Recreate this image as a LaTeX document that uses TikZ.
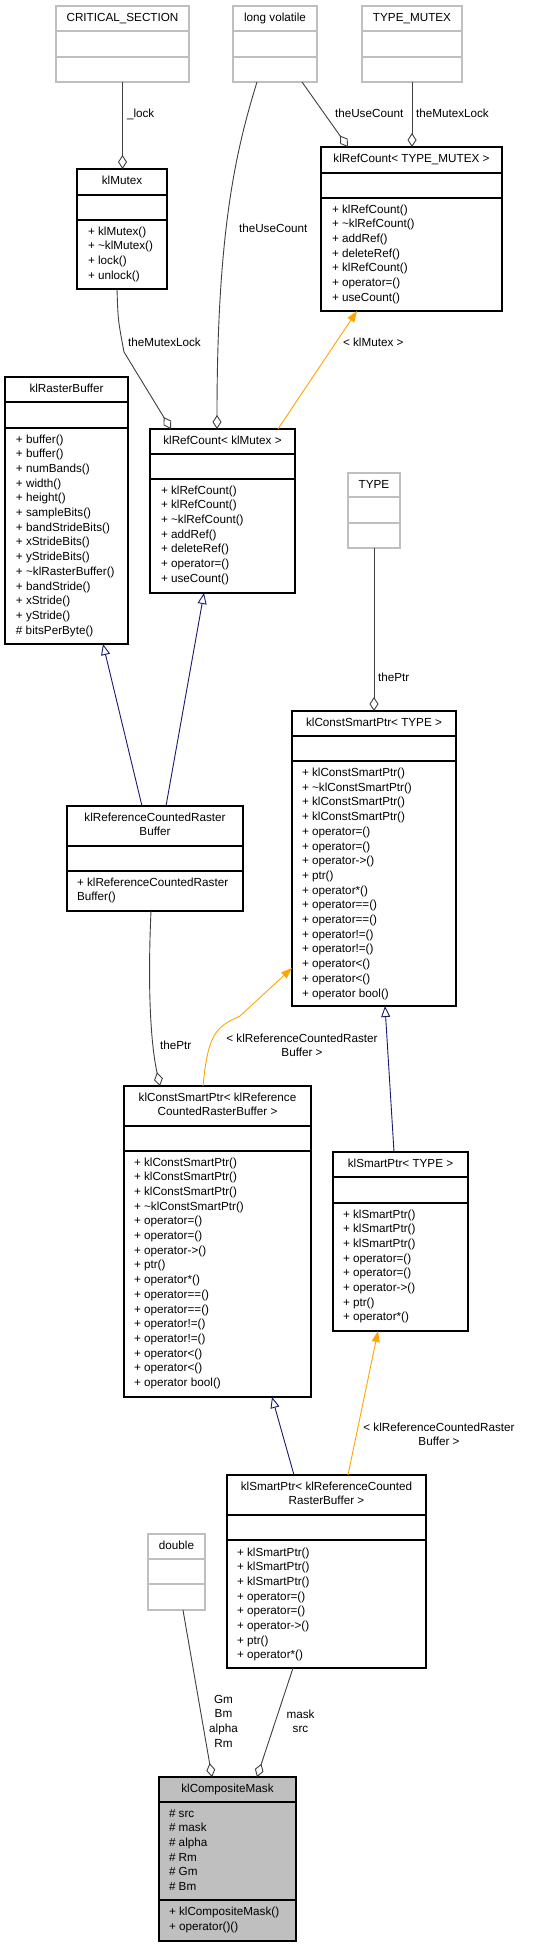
\documentclass[tikz,border=0pt]{standalone}
\usepackage{fontspec}
\setmainfont{Liberation Sans}
\usetikzlibrary{arrows.meta}
\definecolor{gborder}{HTML}{BFBFBF}
\definecolor{edgegray}{HTML}{404040}
\definecolor{inhblue}{HTML}{191970}
\definecolor{tmplorange}{HTML}{FFA500}
\definecolor{cmfill}{HTML}{BFBFBF}
\tikzset{
  txt/.style={inner sep=0pt, outer sep=0pt, text=black, font=\fontsize{11.7}{14}\selectfont},
  clsbox/.style={draw=black, line width=1.1pt, inner sep=0pt, outer sep=0pt, fill=white},
  graybox/.style={draw=gborder, line width=1.1pt, inner sep=0pt, outer sep=0pt, fill=white},
  mainbox/.style={draw=black, line width=1.1pt, inner sep=0pt, outer sep=0pt, fill=cmfill},
  agg/.style={draw=edgegray, line width=0.9pt, -{Diamond[open, length=14pt, width=9pt]}},
  inh/.style={draw=inhblue, line width=0.9pt, -{Triangle[open, length=11pt, width=9pt]}},
  tmpl/.style={draw=tmplorange, line width=0.9pt, -{Triangle[length=11pt, width=8pt]}},
}
% box: style, name, x1, y1, x2, y2, divider1, divider2
\newcommand\umlbox[8]{%
  \node[#1, anchor=north west, minimum width={#5-#3}, minimum height={#6-#4}] (#2) at (#3,#4) {};
  \draw[#1, fill=none] (#2.west |- 0,#7) -- (#2.east |- 0,#7) (#2.west |- 0,#8) -- (#2.east |- 0,#8);
}
% left-aligned lines: prefix, left x, first centre y, list
\newcommand\mlines[4]{%
  \foreach \mytext [count=\k from 0] in {#4}{
    \node[txt, anchor=base west] (#1\k) at (#2, {#3+4+14.7*\k}) {\mytext};
  }}
% centred lines: prefix, centre x, first centre y, list
\newcommand\clines[4]{%
  \foreach \mytext [count=\k from 0] in {#4}{
    \node[txt, anchor=base] (#1\k) at (#2, {#3+4+14.7*\k}) {\mytext};
  }}
\begin{document}
\begin{tikzpicture}[x=1pt, y=-1pt]
\useasboundingbox (0,0) rectangle (557,1947);
\fill[white] (0,0) rectangle (557,1947);

% ---------------- classes ----------------
\umlbox{graybox}{cs}{56}{6}{189}{82}{31}{57}
\clines{cs-t}{122.5}{17}{CRITICAL\_SECTION}

\umlbox{graybox}{lv}{233}{6}{317}{82}{31}{57}
\clines{lv-t}{275}{17}{long volatile}

\umlbox{graybox}{tm}{362}{6}{462}{82}{31}{57}
\clines{tm-t}{412}{17}{TYPE\_MUTEX}

\umlbox{clsbox}{kmx}{77}{169}{167}{289}{195}{220}
\clines{kmx-t}{122}{180}{klMutex}
\mlines{kmx-m}{88}{231}{+ klMutex(), + \textasciitilde klMutex(), + lock(), + unlock()}

\umlbox{clsbox}{rct}{321}{147}{502}{311}{173}{198}
\clines{rct-t}{411.5}{158}{klRefCount< TYPE\_MUTEX >}
\mlines{rct-m}{332}{209}{+ klRefCount(), + \textasciitilde klRefCount(), + addRef(), + deleteRef(), + klRefCount(), + operator=(), + useCount()}

\umlbox{clsbox}{rb}{5}{377}{128}{644}{402}{428}
\clines{rb-t}{66.5}{388}{klRasterBuffer}
\mlines{rb-m}{16}{439}{+ buffer(), + buffer(), + numBands(), + width(), + height(), + sampleBits(), + bandStrideBits(), + xStrideBits(), + yStrideBits(), + \textasciitilde klRasterBuffer(), + bandStride(), + xStride(), + yStride(), \# bitsPerByte()}

\umlbox{clsbox}{rcm}{150}{429}{295}{593}{454}{479}
\clines{rcm-t}{222.5}{440}{klRefCount< klMutex >}
\mlines{rcm-m}{161}{490}{+ klRefCount(), + klRefCount(), + \textasciitilde klRefCount(), + addRef(), + deleteRef(), + operator=(), + useCount()}

\umlbox{graybox}{ty}{348}{473}{400}{548}{497}{523}
\clines{ty-t}{374}{484}{TYPE}

\umlbox{clsbox}{cst}{292}{711}{456}{1006}{736}{761}
\clines{cst-t}{374}{722}{klConstSmartPtr< TYPE >}
\mlines{cst-m}{302}{772.5}{+ klConstSmartPtr(), + \textasciitilde klConstSmartPtr(), + klConstSmartPtr(), + klConstSmartPtr(), + operator=(), + operator=(), + operator->(), + ptr(), + operator*(), + operator==(), + operator==(), + operator!=(), + operator!=(), + operator<(), + operator<(), + operator bool()}

\umlbox{clsbox}{rcrb}{67}{806}{243}{911}{846}{871}
\clines{rcrb-t}{155}{817}{klReferenceCountedRaster, Buffer}
\mlines{rcrb-m}{77}{882}{+ klReferenceCountedRaster, Buffer()}

\umlbox{clsbox}{csr}{124}{1086}{311}{1397}{1126}{1151}
\clines{csr-t}{217.5}{1097}{klConstSmartPtr< klReference, CountedRasterBuffer >}
\mlines{csr-m}{134}{1162}{+ klConstSmartPtr(), + klConstSmartPtr(), + klConstSmartPtr(), + \textasciitilde klConstSmartPtr(), + operator=(), + operator=(), + operator->(), + ptr(), + operator*(), + operator==(), + operator==(), + operator!=(), + operator!=(), + operator<(), + operator<(), + operator bool()}

\umlbox{clsbox}{spt}{333}{1152}{468}{1331}{1177}{1203}
\clines{spt-t}{400.5}{1163}{klSmartPtr< TYPE >}
\mlines{spt-m}{343}{1214}{+ klSmartPtr(), + klSmartPtr(), + klSmartPtr(), + operator=(), + operator=(), + operator->(), + ptr(), + operator*()}

\umlbox{clsbox}{spr}{227}{1475}{426}{1668}{1515}{1540}
\clines{spr-t}{326.5}{1486}{klSmartPtr< klReferenceCounted, RasterBuffer >}
\mlines{spr-m}{237}{1552}{+ klSmartPtr(), + klSmartPtr(), + klSmartPtr(), + operator=(), + operator=(), + operator->(), + ptr(), + operator*()}

\umlbox{graybox}{db}{148}{1534}{205}{1610}{1559}{1584}
\clines{db-t}{176.5}{1545}{double}

\umlbox{mainbox}{cm}{159}{1777}{296}{1941}{1802}{1900}
\clines{cm-t}{227.5}{1788}{klCompositeMask}
\mlines{cm-a}{169}{1813}{\# src, \# mask, \# alpha, \# Rm, \# Gm, \# Bm}
\mlines{cm-m}{169}{1911.5}{+ klCompositeMask(), + operator()()}

% ---------------- connectors ----------------
\draw[agg] (cs.south) -- (cs.south |- kmx.north);
\draw[agg] (302,0 |- lv.south) -- (348,0 |- rct.north);
\draw[agg] (tm.south) -- (tm.south |- rct.north);
\draw[agg] (257,0 |- lv.south) .. controls (236,150) and (217,230) .. (217,0 |- rcm.north);
\draw[agg] (117,0 |- kmx.south) .. controls (118,320) .. (124,352) -- (171,0 |- rcm.north);
\draw[tmpl] (278,0 |- rcm.north) -- (357,0 |- rct.south);

\draw[inh] (142,0 |- rcrb.north) -- (103,0 |- rb.south);
\draw[inh] (166,0 |- rcrb.north) -- (204,0 |- rcm.south);

\draw[agg] (ty.south) -- (ty.south |- cst.north);
\draw[agg] (151,0 |- rcrb.south) .. controls (147,1000) and (152,1050) .. (160,0 |- csr.north);
\draw[tmpl] (203,0 |- csr.north) .. controls (208,1035) and (215,1027) .. (240,1016) -- (cst.west |- 0,968);

\draw[inh] (394,0 |- spt.north) -- (385,0 |- cst.south);
\draw[inh] (294,0 |- spr.north) -- (272,0 |- csr.south);
\draw[tmpl] (348,0 |- spr.north) -- (378,0 |- spt.south);

\draw[agg] (183,0 |- db.south) -- (212,0 |- cm.north);
\draw[agg] (293,0 |- spr.south) -- (257,0 |- cm.north);

% ---------------- connector labels ----------------
\node[txt, anchor=base west] (l-lock) at (127,117) {\_lock};
\node[txt, anchor=base west] (l-uc1) at (335,117) {theUseCount};
\node[txt, anchor=base west] (l-ml1) at (416,117) {theMutexLock};
\node[txt, anchor=base west] (l-uc2) at (239,232) {theUseCount};
\node[txt, anchor=base west] (l-ml2) at (128,346) {theMutexLock};
\node[txt, anchor=base west] (l-km) at (343,346) {< klMutex >};
\node[txt, anchor=base west] (l-p1) at (378,681) {thePtr};
\node[txt, anchor=base west] (l-p2) at (160,1049) {thePtr};
\clines{l-o1-}{302}{1038}{< klReferenceCountedRaster, Buffer >}
\clines{l-o2-}{439}{1427}{< klReferenceCountedRaster, Buffer >}
\clines{l-g-}{223.5}{1699}{Gm, Bm, alpha, Rm}
\clines{l-s-}{300.5}{1714}{mask, src}
\end{tikzpicture}
\end{document}
